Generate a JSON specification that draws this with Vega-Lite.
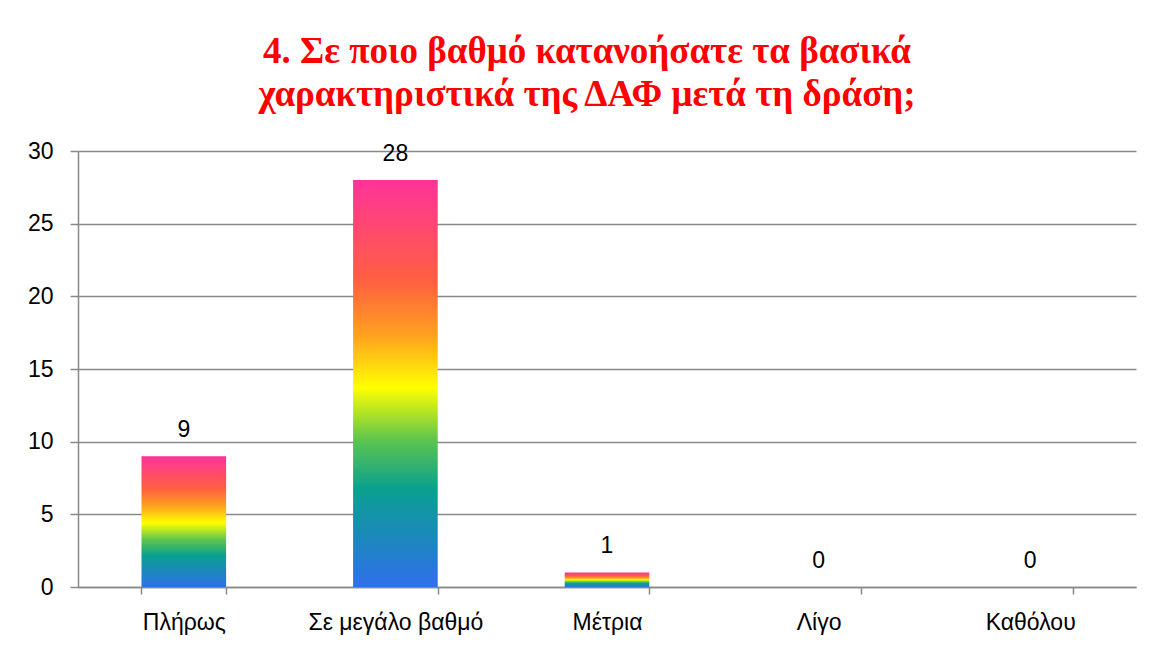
{
  "$schema": "https://vega.github.io/schema/vega-lite/v6.json",
  "autosize": "none",
  "width": 1058,
  "height": 436,
  "padding": {"left": 78, "top": 151, "right": 17, "bottom": 61},
  "background": "white",
  "title": {
    "text": ["4. Σε ποιο βαθμό κατανοήσατε τα βασικά", "χαρακτηριστικά της ΔΑΦ μετά τη δράση;"],
    "font": "Liberation Serif",
    "fontWeight": "bold",
    "fontSize": 37,
    "lineHeight": 43,
    "color": "#FF0000",
    "anchor": "middle",
    "frame": "group",
    "dx": -20,
    "offset": 26
  },
  "data": {
    "values": [
      {"cat": "Πλήρως", "v": 9},
      {"cat": "Σε μεγάλο βαθμό", "v": 28},
      {"cat": "Μέτρια", "v": 1},
      {"cat": "Λίγο", "v": 0},
      {"cat": "Καθόλου", "v": 0}
    ]
  },
  "encoding": {
    "x": {
      "field": "cat", "type": "nominal", "sort": null,
      "scale": {"paddingInner": 0.6, "paddingOuter": 0.3},
      "axis": {
        "title": null, "labelAngle": 0, "tickBand": "extent",
        "labelFont": "Liberation Sans", "labelFontSize": 23, "labelColor": "#000000",
        "labelPadding": 17, "tickSize": 7, "tickColor": "#898989", "domainColor": "#898989",
        "domainWidth": 1.5, "tickWidth": 1.5, "grid": false
      }
    },
    "y": {
      "field": "v", "type": "quantitative",
      "scale": {"domain": [0, 30]},
      "axis": {
        "title": null, "values": [0, 5, 10, 15, 20, 25, 30],
        "labelFont": "Liberation Sans", "labelFontSize": 23, "labelColor": "#000000",
        "labelPadding": 17, "tickSize": 8, "tickColor": "#898989", "domainColor": "#898989",
        "domainWidth": 1.5, "tickWidth": 1.5, "gridColor": "#898989", "gridWidth": 1.5
      }
    }
  },
  "layer": [
    {
      "mark": {
        "type": "bar",
        "color": {
          "gradient": "linear", "x1": 0, "y1": 1, "x2": 0, "y2": 0,
          "stops": [
            {"offset": 0, "color": "#2F6FEB"},
            {"offset": 0.24, "color": "#0AA08F"},
            {"offset": 0.36, "color": "#5CC450"},
            {"offset": 0.49, "color": "#FFFF00"},
            {"offset": 0.62, "color": "#FFA020"},
            {"offset": 0.75, "color": "#FF6040"},
            {"offset": 1, "color": "#FF3399"}
          ]
        }
      }
    },
    {
      "mark": {"type": "text", "baseline": "bottom", "dy": -14, "font": "Liberation Sans", "fontSize": 23, "color": "#000000"},
      "encoding": {"text": {"field": "v", "type": "quantitative"}}
    }
  ],
  "config": {"view": {"stroke": null}}
}
